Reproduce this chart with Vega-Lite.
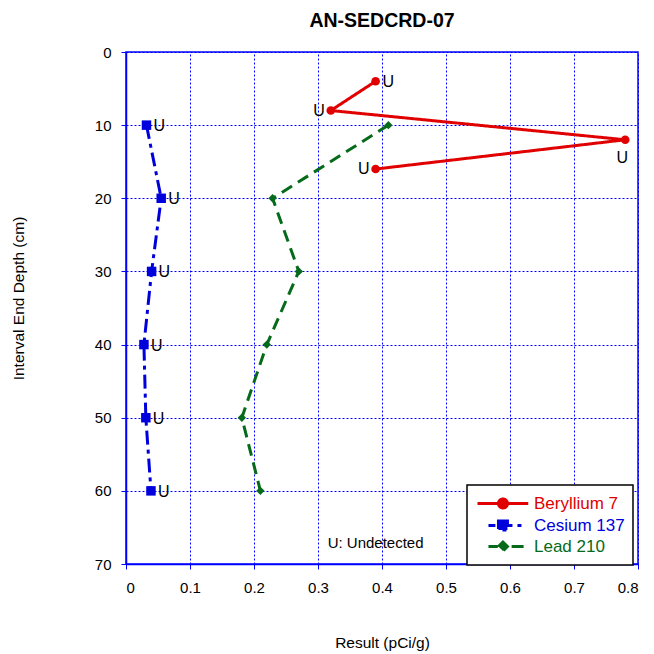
{
  "$schema": "https://vega.github.io/schema/vega-lite/v6.json",
  "width": 512,
  "height": 512,
  "autosize": {"type": "none"},
  "padding": {"left": 126, "top": 52, "right": 16, "bottom": 90},
  "background": "white",
  "title": {
    "text": "AN-SEDCRD-07",
    "font": "Liberation Sans",
    "fontSize": 19.5,
    "fontWeight": "bold",
    "color": "black",
    "anchor": "middle",
    "offset": 14
  },
  "config": {
    "font": "Liberation Sans",
    "view": {"stroke": "#0000ff", "strokeWidth": 1.5},
    "axis": {
      "grid": true,
      "gridColor": "#0000ff",
      "gridDash": [2, 2],
      "gridWidth": 1,
      "gridOpacity": 1,
      "domainColor": "#0000ff",
      "domainWidth": 1.5,
      "tickColor": "#0000ff",
      "tickSize": 5,
      "tickWidth": 1,
      "labelFont": "Liberation Sans",
      "labelFontSize": 15,
      "labelColor": "black",
      "titleFont": "Liberation Sans",
      "titleFontSize": 15.5,
      "titleFontWeight": "normal",
      "titleColor": "black"
    }
  },
  "data": {
    "values": [
      {"series": "Beryllium 7", "depth": 4, "result": 0.39, "qualifier": "U"},
      {"series": "Beryllium 7", "depth": 8, "result": 0.32, "qualifier": "U"},
      {"series": "Beryllium 7", "depth": 12, "result": 0.78, "qualifier": "U"},
      {"series": "Beryllium 7", "depth": 16, "result": 0.39, "qualifier": "U"},
      {"series": "Cesium 137", "depth": 10, "result": 0.032, "qualifier": "U"},
      {"series": "Cesium 137", "depth": 20, "result": 0.055, "qualifier": "U"},
      {"series": "Cesium 137", "depth": 30, "result": 0.04, "qualifier": "U"},
      {"series": "Cesium 137", "depth": 40, "result": 0.028, "qualifier": "U"},
      {"series": "Cesium 137", "depth": 50, "result": 0.031, "qualifier": "U"},
      {"series": "Cesium 137", "depth": 60, "result": 0.039, "qualifier": "U"},
      {"series": "Lead 210", "depth": 10, "result": 0.41, "qualifier": ""},
      {"series": "Lead 210", "depth": 20, "result": 0.229, "qualifier": ""},
      {"series": "Lead 210", "depth": 30, "result": 0.27, "qualifier": ""},
      {"series": "Lead 210", "depth": 40, "result": 0.22, "qualifier": ""},
      {"series": "Lead 210", "depth": 50, "result": 0.181, "qualifier": ""},
      {"series": "Lead 210", "depth": 60, "result": 0.21, "qualifier": ""}
    ]
  },
  "encoding": {
    "x": {
      "field": "result",
      "type": "quantitative",
      "scale": {"domain": [0, 0.8], "nice": false, "zero": false},
      "axis": {
        "title": "Result (pCi/g)",
        "values": [0, 0.1, 0.2, 0.3, 0.4, 0.5, 0.6, 0.7, 0.8],
        "format": "~g",
        "labelPadding": 11,
        "titleX": 256,
        "titleY": 83,
        "titleBaseline": "alphabetic",
        "titleAlign": "center"
      }
    },
    "y": {
      "field": "depth",
      "type": "quantitative",
      "scale": {"domain": [0, 70], "reverse": true, "nice": false, "zero": false},
      "axis": {
        "title": "Interval End Depth (cm)",
        "values": [0, 10, 20, 30, 40, 50, 60, 70],
        "labelPadding": 10,
        "titleX": -108,
        "titleY": 246,
        "titleAngle": -90,
        "titleBaseline": "middle",
        "titleAlign": "center"
      }
    },
    "color": {
      "field": "series",
      "type": "nominal",
      "scale": {
        "domain": ["Beryllium 7", "Cesium 137", "Lead 210"],
        "range": ["#e00000", "#0000dd", "#056a1a"]
      },
      "legend": null
    }
  },
  "layer": [
    {
      "mark": {"type": "line", "strokeWidth": 3},
      "encoding": {
        "order": {"field": "depth", "type": "quantitative"},
        "strokeDash": {
          "field": "series",
          "type": "nominal",
          "scale": {
            "domain": ["Beryllium 7", "Cesium 137", "Lead 210"],
            "range": [[1, 0], [14, 5, 4, 5], [12, 7]]
          },
          "legend": null
        },
        "color": {
          "field": "series",
          "type": "nominal",
          "legend": {
            "title": null,
            "orient": "none",
            "legendX": 341,
            "legendY": 433,
            "padding": 8,
            "fillColor": "white",
            "strokeColor": "black",
            "symbolSize": 324,
            "symbolStrokeWidth": 3,
            "symbolOffset": 0,
            "labelOffset": 38,
            "labelFont": "Liberation Sans",
            "labelFontSize": 17,
            "rowPadding": -2,
            "labelLimit": 200,
            "encode": {
              "legend": {"update": {"strokeWidth": {"value": 1.5}}},
              "labels": {"update": {"fill": {"scale": "color", "field": "value"}}},
              "symbols": {
                "update": {
                  "shape": {"signal": "datum.value == 'Beryllium 7' ? 'M-0.89,0H4.75M2.44,0A0.5,0.5,0,1,1,1.44,0A0.5,0.5,0,1,1,2.44,0Z' : datum.value == 'Cesium 137' ? 'M0.33,0H1.1M1.44,0H4.45M1.44,-0.5H2.44V0.5H1.44Z' : 'M0.33,0H1.35M1.94,-0.5L2.44,0L1.94,0.5L1.44,0ZM2.9,0H4.45'"},
                  "fill": {"scale": "color", "field": "value"},
                  "fillOpacity": {"value": 1},
                  "stroke": {"scale": "color", "field": "value"}
                }
              }
            }
          }
        }
      }
    },
    {
      "transform": [{"filter": "datum.series == 'Beryllium 7'"}],
      "mark": {"type": "point", "shape": "circle", "filled": true, "opacity": 1, "size": 75}
    },
    {
      "transform": [{"filter": "datum.series == 'Cesium 137'"}],
      "mark": {"type": "point", "shape": "square", "filled": true, "opacity": 1, "size": 90}
    },
    {
      "transform": [{"filter": "datum.series == 'Lead 210'"}],
      "mark": {"type": "point", "shape": "diamond", "filled": true, "opacity": 1, "size": 70}
    },
    {
      "transform": [{"filter": "datum.qualifier == 'U' && (datum.series == 'Cesium 137' || datum.depth == 4)"}],
      "mark": {"type": "text", "align": "left", "baseline": "middle", "dx": 7, "dy": 1, "fontSize": 16, "font": "Liberation Sans", "color": "black"},
      "encoding": {"text": {"field": "qualifier"}, "color": {"value": "black"}}
    },
    {
      "transform": [{"filter": "datum.qualifier == 'U' && datum.series == 'Beryllium 7' && (datum.depth == 8 || datum.depth == 16)"}],
      "mark": {"type": "text", "align": "right", "baseline": "middle", "dx": -6, "dy": 0, "fontSize": 16, "font": "Liberation Sans", "color": "black"},
      "encoding": {"text": {"field": "qualifier"}, "color": {"value": "black"}}
    },
    {
      "transform": [{"filter": "datum.qualifier == 'U' && datum.series == 'Beryllium 7' && datum.depth == 12"}],
      "mark": {"type": "text", "align": "center", "baseline": "middle", "dx": -3, "dy": 18, "fontSize": 16, "font": "Liberation Sans", "color": "black"},
      "encoding": {"text": {"field": "qualifier"}, "color": {"value": "black"}}
    },
    {
      "data": {"values": [{"label": "U: Undetected", "result": 0.39, "depth": 67.1}]},
      "mark": {"type": "text", "align": "center", "baseline": "middle", "fontSize": 15, "font": "Liberation Sans", "color": "black"},
      "encoding": {"text": {"field": "label"}, "color": {"value": "black"}}
    }
  ]
}
